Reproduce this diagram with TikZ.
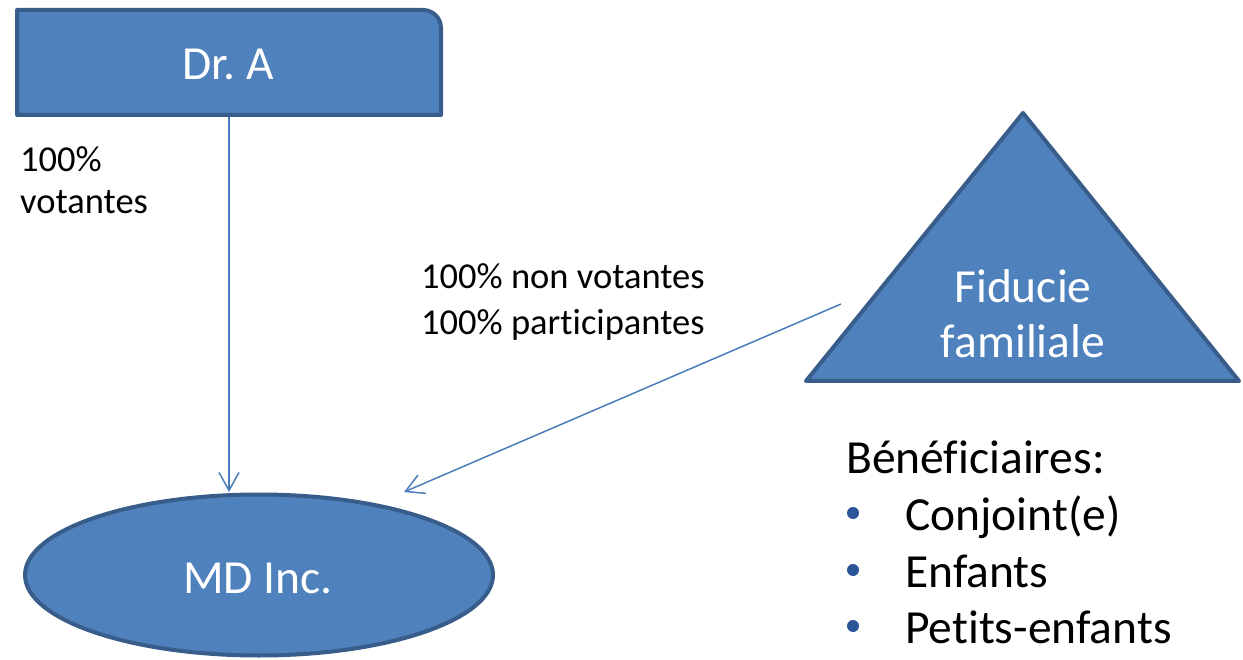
\documentclass[tikz,border=0pt]{standalone}
\usepackage{fontspec}
\setmainfont{Carlito}[Ligatures=NoCommon]
\frenchspacing
\usetikzlibrary{arrows.meta,shapes.geometric}
\definecolor{shapefill}{HTML}{4F81BD}
\definecolor{shapeedge}{HTML}{385D8A}
\definecolor{linkcol}{HTML}{4A7EBB}
\definecolor{bulletcol}{HTML}{2C5597}
\tikzset{
  shapestyle/.style={fill=shapefill, draw=shapeedge, line width=4pt, line join=round},
  shapetext/.style={text=white, font=\fontsize{47.5}{57}\selectfont, inner sep=0pt},
  bigtext/.style={text=black, font=\fontsize{47.5}{57}\selectfont, inner sep=0pt, anchor=base west},
  smalltext/.style={text=black, font=\fontsize{36.5}{44}\selectfont, inner sep=0pt, anchor=base west},
  link/.style={draw=linkcol, line width=1.5pt, -{Straight Barb[length=18pt,width=20pt,line width=1.5pt]}},
  bulletdot/.style={circle, fill=bulletcol, minimum size=12pt, inner sep=0pt},
}
\begin{document}
\begin{tikzpicture}[x=1pt,y=1pt]
\useasboundingbox (0,0) rectangle (1243,-660);
% Dr. A box (top-right corner rounded)
\node[minimum width=428pt, minimum height=109pt, inner sep=0pt, outer sep=0pt] (dra) at (229,-62.5) {};
\draw[shapestyle] (17,-115) -- (17,-10) -- (423,-10) arc[start angle=90,end angle=0,radius=18] -- (441,-115) -- cycle;
\node[shapetext, anchor=base] (dratext) at (228,-80) {Dr. A};
% MD Inc. ellipse
\node[ellipse, shapestyle, minimum width=468pt, minimum height=161pt, inner sep=0pt] (mdi) at (259,-575) {};
\node[shapetext, anchor=base] (mditext) at (258,-593) {MD Inc.};
% Fiducie triangle
\draw[shapestyle] (806,-381) -- (1023,-113) -- (1239,-381) -- cycle;
\coordinate (fid) at (1023,-300);
\node[shapetext, anchor=base] (fid1) at (1023,-303) {Fiducie};
\node[shapetext, anchor=base] (fid2) at (1023,-358) {familiale};
% connectors
\coordinate (drabottom) at (229,-117);
\coordinate (mditop) at (229,-492);
\coordinate (fidstart) at (841,-304);
\coordinate (mdiend) at (404,-492);
\draw[link] (drabottom) -- (mditop);
\draw[link] (fidstart) -- (mdiend);
% labels
\node[smalltext] (l1a) at (20,-172) {100\%};
\node[smalltext] (l1b) at (20,-214) {votantes};
\node[smalltext] (l2a) at (421,-289) {100\% non votantes};
\node[smalltext] (l2b) at (421,-335) {100\% participantes};
% beneficiaries
\node[bigtext] (ben) at (846,-473) {Bénéficiaires:};
\node[bulletdot] (b1) at (853,-513) {};
\node[bigtext] (i1) at (905,-530) {Conjoint(e)};
\node[bulletdot] (b2) at (853,-570) {};
\node[bigtext] (i2) at (905,-587) {Enfants};
\node[bulletdot] (b3) at (853,-626) {};
\node[bigtext] (i3) at (905,-643) {Petits-enfants};
\end{tikzpicture}
\end{document}
